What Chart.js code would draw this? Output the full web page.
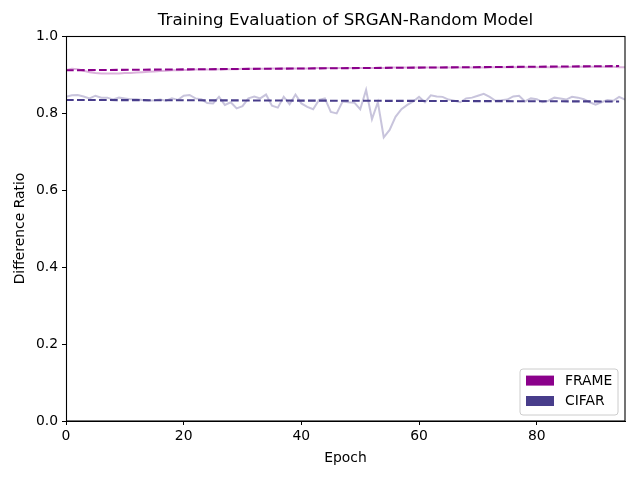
<!DOCTYPE html>
<html>
<head>
<meta charset="utf-8">
<script src="https://cdn.jsdelivr.net/npm/chart.js@4/dist/chart.umd.min.js"></script>
<style>
  html, body { margin: 0; padding: 0; background: #ffffff; }
  #wrap { width: 640px; height: 480px; }
</style>
</head>
<body>
<div id="wrap"><canvas id="c" width="640" height="480"></canvas></div>
<script>
const chartTitle = "Training Evaluation of SRGAN-Random Model";
const xTitle = "Epoch";
const yTitle = "Difference Ratio";
const seriesNames = ["FRAME", "CIFAR"];

const frameRaw = [
  0.912, 0.915, 0.914, 0.910, 0.906, 0.904, 0.903, 0.903, 0.903, 0.903,
  0.904, 0.904, 0.905, 0.906, 0.907, 0.908, 0.909, 0.910, 0.911, 0.911,
  0.912, 0.912, 0.913, 0.913, 0.913, 0.913, 0.914, 0.914, 0.914, 0.914,
  0.915, 0.915, 0.915, 0.915, 0.915, 0.916, 0.916, 0.916, 0.916, 0.916,
  0.916, 0.916, 0.917, 0.917, 0.917, 0.917, 0.917, 0.917, 0.917, 0.917,
  0.917, 0.917, 0.917, 0.917, 0.917, 0.918, 0.918, 0.918, 0.918, 0.918,
  0.918, 0.918, 0.918, 0.918, 0.918, 0.918, 0.918, 0.918, 0.918, 0.918,
  0.918, 0.918, 0.919, 0.919, 0.919, 0.919, 0.919, 0.919, 0.919, 0.919,
  0.919, 0.919, 0.919, 0.919, 0.919, 0.919, 0.920, 0.920, 0.920, 0.920,
  0.920, 0.920, 0.920, 0.920, 0.919, 0.919
];

const cifarRaw = [
  0.842, 0.846, 0.847, 0.843, 0.838, 0.845, 0.840, 0.840, 0.835, 0.840,
  0.838, 0.836, 0.836, 0.834, 0.832, 0.833, 0.835, 0.832, 0.838, 0.834,
  0.845, 0.847, 0.838, 0.836, 0.826, 0.825, 0.842, 0.821, 0.828, 0.812,
  0.818, 0.838, 0.843, 0.838, 0.848, 0.819, 0.814, 0.842, 0.823, 0.848,
  0.825, 0.816, 0.810, 0.834, 0.838, 0.803, 0.799, 0.830, 0.828, 0.827,
  0.810, 0.860, 0.784, 0.828, 0.737, 0.756, 0.790, 0.810, 0.821, 0.830,
  0.842, 0.828, 0.846, 0.843, 0.842, 0.835, 0.832, 0.828, 0.838, 0.840,
  0.845, 0.850, 0.842, 0.832, 0.833, 0.835, 0.843, 0.845, 0.830, 0.838,
  0.836, 0.828, 0.832, 0.840, 0.838, 0.835, 0.842, 0.840, 0.836, 0.828,
  0.822, 0.828, 0.834, 0.832, 0.842, 0.835
];

const trendX = [0, 94];
const frameTrend = [0.911, 0.922];
const cifarTrend = [0.834, 0.830];

const xMax = 95;
const xTickStep = 20;
const yTicksMax = 1.0;
const yTickStep = 0.2;

const frameColor = "#8b008b";
const frameLight = "rgba(139,0,139,0.3)";
const cifarColor = "#483d8b";
const cifarLight = "rgba(72,61,139,0.3)";

const FONT = "'DejaVu Sans', sans-serif";

function pts(arr) { return arr.map((v, i) => ({ x: i, y: v })); }
function trendPts(xs, ys) { return xs.map((x, i) => ({ x: x, y: ys[i] })); }

const framePlugin = {
  id: 'frameAndLegend',
  afterDraw(chart) {
    const ctx = chart.ctx;
    const a = chart.chartArea;
    ctx.save();
    ctx.strokeStyle = '#000';
    ctx.lineWidth = 1.1;
    ctx.strokeRect(Math.round(a.left) + 0.5, Math.round(a.top) + 0.5,
                   Math.round(a.right - a.left) - 1 + 0.5, Math.round(a.bottom - a.top) - 0.5);
    // legend
    const items = chart.data.datasets.filter(d => d.legendLabel);
    const boxW = 98, rowH = 20.4;
    const boxH = 11.6 + (items.length - 1) * rowH + 14;
    const lx = a.right - 7 - boxW, ly = a.bottom - 6 - boxH;
    ctx.globalAlpha = 0.8;
    ctx.fillStyle = '#fff';
    ctx.beginPath();
    if (ctx.roundRect) ctx.roundRect(lx, ly, boxW, boxH, 3); else ctx.rect(lx, ly, boxW, boxH);
    ctx.fill();
    ctx.globalAlpha = 1;
    ctx.strokeStyle = '#cccccc';
    ctx.lineWidth = 1;
    ctx.stroke();
    ctx.font = "13.9px " + FONT;
    ctx.textBaseline = 'middle';
    ctx.textAlign = 'left';
    items.forEach((d, i) => {
      const cy = ly + 11.6 + i * rowH;
      ctx.fillStyle = d.legendColor;
      ctx.fillRect(lx + 6, cy - 5, 28, 10);
      ctx.fillStyle = '#000';
      ctx.fillText(d.legendLabel, lx + 45, cy + 0.5);
    });
    ctx.restore();
  }
};

new Chart(document.getElementById('c'), {
  type: 'line',
  data: {
    datasets: [
      { label: seriesNames[0] + ' raw', data: pts(frameRaw), borderColor: frameLight, borderWidth: 2,
        pointRadius: 0, tension: 0, order: 2 },
      { label: seriesNames[0], legendLabel: seriesNames[0], legendColor: frameColor,
        data: trendPts(trendX, frameTrend), borderColor: frameColor, borderWidth: 2.1,
        borderDash: [7.7, 3.3], pointRadius: 0, order: 1 },
      { label: seriesNames[1] + ' raw', data: pts(cifarRaw), borderColor: cifarLight, borderWidth: 2,
        pointRadius: 0, tension: 0, order: 2 },
      { label: seriesNames[1], legendLabel: seriesNames[1], legendColor: cifarColor,
        data: trendPts(trendX, cifarTrend), borderColor: cifarColor, borderWidth: 2.1,
        borderDash: [7.7, 3.3], pointRadius: 0, order: 1 }
    ]
  },
  options: {
    responsive: false,
    animation: false,
    layout: { padding: { top: 0, right: 15, bottom: 0, left: 0 } },
    plugins: {
      legend: { display: false },
      tooltip: { enabled: false },
      title: {
        display: true, text: chartTitle, fullSize: false, color: '#000',
        font: { family: FONT, size: 16.7, weight: 'normal' },
        padding: { top: 11, bottom: 5 }
      }
    },
    scales: {
      x: {
        type: 'linear', min: 0, max: xMax,
        afterFit: s => { s.height = 59; },
        afterBuildTicks: s => { s.ticks = s.ticks.filter(t => Math.abs(t.value % xTickStep) < 1e-9); },
        ticks: { stepSize: xTickStep, color: '#000', font: { family: FONT, size: 13.9 }, padding: 3, maxRotation: 0 },
        grid: { display: true, drawOnChartArea: false, drawTicks: true, tickLength: 4, tickColor: '#000' },
        border: { display: true, color: '#000', width: 1 },
        title: { display: true, text: xTitle, color: '#000', font: { family: FONT, size: 13.9 }, padding: { top: 0, bottom: 13.5 } }
      },
      y: {
        min: 0, max: yTicksMax,
        afterFit: s => { s.width = 66; },
        ticks: { stepSize: yTickStep, color: '#000', font: { family: FONT, size: 13.9 }, padding: 4,
                 callback: v => Number(v).toFixed(1) },
        grid: { display: true, drawOnChartArea: false, drawTicks: true, tickLength: 4, tickColor: '#000' },
        border: { display: true, color: '#000', width: 1 },
        title: { display: true, text: yTitle, color: '#000', font: { family: FONT, size: 13.9 }, padding: { top: 12.5, bottom: 0 } }
      }
    }
  },
  plugins: [framePlugin]
});
</script>
</body>
</html>
